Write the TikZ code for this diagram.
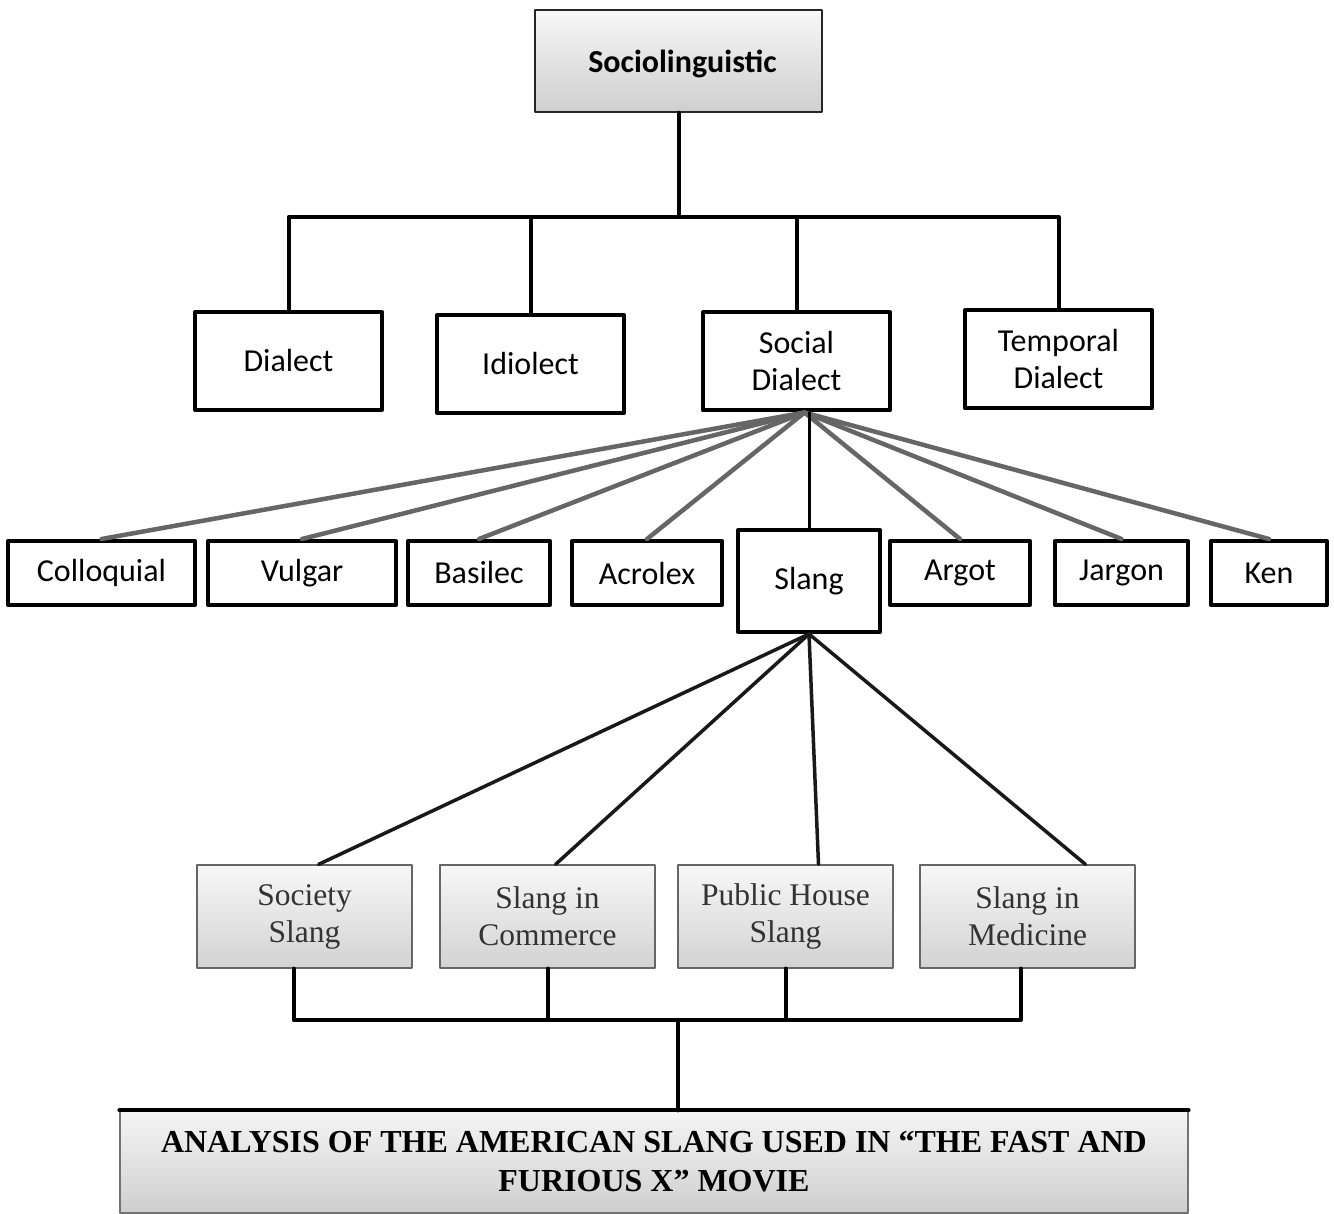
\documentclass[tikz,border=0pt]{standalone}
\usepackage{fontspec}
\setmainfont{Carlito}
\newfontfamily\kindfont{Liberation Serif}
\usetikzlibrary{calc}

\begin{document}
\begin{tikzpicture}[x=1pt, y=-1pt, line cap=round, line join=round,
  topbox/.style={draw=black!85, line width=1.5pt, top color=gray!6, bottom color=gray!38,
    minimum width=287, minimum height=102, text depth=0pt,
    font=\fontsize{32}{38}\selectfont\bfseries},
  midbox/.style={draw, line width=4pt, fill=white, minimum width=187, minimum height=98,
    align=center, font=\fontsize{32}{37}\selectfont},
  leafbox/.style={draw, line width=4pt, fill=white, minimum height=64, inner sep=2pt,
    font=\fontsize{32}{36}\selectfont},
  kindbox/.style={draw=black!60, line width=1.2pt, top color=gray!6, bottom color=gray!35,
    minimum width=215, minimum height=103, align=center, text=black!80,
    font=\kindfont\fontsize{31.5}{37}\selectfont},
  endbox/.style={draw=black!55, line width=1.2pt, top color=gray!8, bottom color=gray!38,
    minimum width=1068, minimum height=102, align=center,
    font=\kindfont\bfseries\fontsize{32}{39}\selectfont},
  link/.style={line width=4pt},
  fan/.style={line width=4.5pt, black!60},
  sfan/.style={line width=3.5pt, black!90}]
  \fill[white] (0,0) rectangle (1334,1214);
  \useasboundingbox (0,0) rectangle (1334,1214);

  \node[topbox] (soc) at (678.5,61) {\hspace{8pt}Sociolinguistic};

  \node[midbox] (dia) at (288.5,361)   {Dialect};
  \node[midbox] (idi) at (530.5,364)   {Idiolect};
  \node[midbox] (sdi) at (796.5,361.5) {Social\\Dialect};
  \node[midbox] (tem) at (1058.5,359.5) {Temporal\\Dialect};

  \node[leafbox, minimum width=187] (col) at (101.5,573) {Colloquial};
  \node[leafbox, minimum width=188] (vul) at (302,573)   {Vulgar};
  \node[leafbox, minimum width=142] (bas) at (479,573)   {Basilec};
  \node[leafbox, minimum width=150] (acr) at (647,573)   {Acrolex};
  \node[leafbox, minimum width=142, minimum height=102] (sla) at (809,581) {Slang};
  \node[leafbox, minimum width=140] (arg) at (960,573)   {Argot};
  \node[leafbox, minimum width=133] (jar) at (1121.5,573) {Jargon};
  \node[leafbox, minimum width=116] (ken) at (1269,573)  {Ken};

  \node[kindbox] (ssoc) at (304.5,916.5)  {Society\\Slang};
  \node[kindbox] (scom) at (547.5,916.5)  {Slang in\\Commerce};
  \node[kindbox] (spub) at (785.5,916.5)  {Public House\\Slang};
  \node[kindbox] (smed) at (1027.5,916.5) {Slang in\\Medicine};

  \node[endbox] (ana) at (654,1162)
    {ANALYSIS OF THE AMERICAN SLANG USED IN “THE FAST AND\\FURIOUS X” MOVIE};
  \draw[link] (ana.north west) -- (ana.north east);

  % upper tree
  \coordinate (hub) at (675,217);
  \draw[link] (soc.south) -- (soc.south |- hub);
  \draw[link] (dia.north) |- (hub) -| (tem.north);
  \draw[link] (idi.north) -- (idi.north |- hub);
  \draw[link] (sdi.north) -- (sdi.north |- hub);

  % kinds of social dialect
  \foreach \n in {col,vul,bas,acr,arg,jar,ken}
    \draw[fan] ([xshift=8]sdi.south) -- (\n.north);
  \draw[link, line width=3pt] (sla.north |- sdi.south) -- (sla.north);

  % kinds of slang
  \draw[sfan] (sla.south) -- ([xshift=14]ssoc.north);
  \draw[sfan] (sla.south) -- ([xshift=8]scom.north);
  \draw[sfan] (sla.south) -- ([xshift=33]spub.north);
  \draw[sfan] (sla.south) -- ([xshift=58]smed.north);

  % lower tree
  \coordinate (hubB) at (678,1020);
  \draw[link] ([xshift=-11]ssoc.south) |- (hubB) -| ([xshift=-7]smed.south);
  \draw[link] (scom.south) -- (scom.south |- hubB);
  \draw[link] (spub.south) -- (spub.south |- hubB);
  \draw[link] (hubB) -- (hubB |- ana.north);
\end{tikzpicture}
\end{document}
